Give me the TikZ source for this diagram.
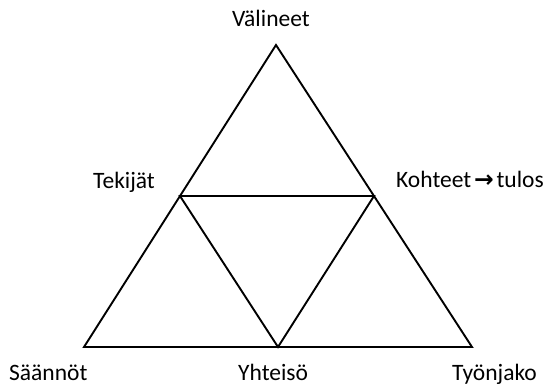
\documentclass[tikz,border=0pt]{standalone}
\usepackage{fontspec}
\usetikzlibrary{calc}
\setmainfont{Carlito}
\newfontfamily\arrowfont{DejaVu Sans}
\begin{document}
\begin{tikzpicture}[x=1pt,y=-1pt,
  lbl/.style={anchor=base west,inner sep=0pt,font=\fontsize{23.5}{28}\selectfont},
  edge/.style={line width=1.9pt,line join=miter}]
\useasboundingbox (0,0) rectangle (547,385);
\coordinate (T) at (276,45);
\coordinate (L) at (84,347);
\coordinate (R) at (472,347);
\coordinate (ML) at ($(T)!0.5!(L)$);
\coordinate (MR) at ($(T)!0.5!(R)$);
\coordinate (MB) at ($(L)!0.5!(R)$);
\draw[edge] (T) -- (L) -- (R) -- cycle;
\draw[edge] (ML) -- (MR) -- (MB) -- cycle;
\node[lbl] (valineet) at (232,27) {Välineet};
\node[lbl] (tekijat) at (93,189) {Tekijät};
\node[lbl] (kohteet) at (396,188) {Kohteet\hspace{0.12em}{\arrowfont\bfseries →}\hspace{0.12em}tulos};
\node[lbl] (saannot) at (9,380) {Säännöt};
\node[lbl] (yhteiso) at (238,380) {Yhteisö};
\node[lbl] (tyonjako) at (452,380) {Työnjako};
\end{tikzpicture}
\end{document}
